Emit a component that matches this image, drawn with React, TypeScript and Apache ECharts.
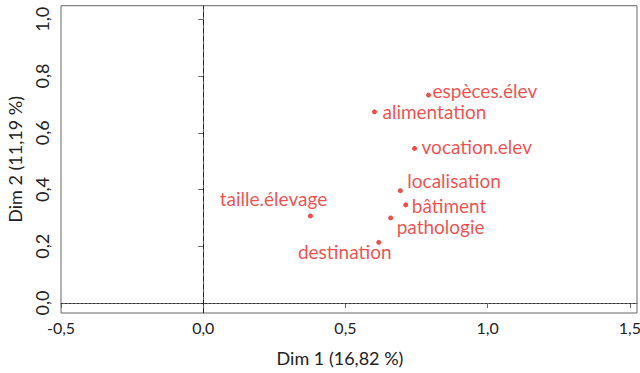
import React, { useEffect, useRef } from "react";
import * as echarts from "echarts";

const names = [
  "espèces.élev",
  "alimentation",
  "vocation.elev",
  "localisation",
  "bâtiment",
  "pathologie",
  "destination",
  "taille.élevage",
];
const dim1 = [0.792, 0.602, 0.743, 0.693, 0.712, 0.659, 0.617, 0.377];
const dim2 = [0.733, 0.674, 0.545, 0.396, 0.346, 0.3, 0.214, 0.307];
const xTicks = [-0.5, 0, 0.5, 1.0, 1.5];
const yTicks = [0, 0.2, 0.4, 0.6, 0.8, 1.0];
const xTitle = "Dim 1 (16,82 %)";
const yTitle = "Dim 2 (11,19 %)";

// label placement per point (layout only)
const labelLayout: Record<string, { align: string; offset: [number, number] }> = {
  "espèces.élev": { align: "left", offset: [4, -5] },
  alimentation: { align: "left", offset: [8, 0] },
  "vocation.elev": { align: "left", offset: [7, -2] },
  localisation: { align: "left", offset: [7, -10] },
  bâtiment: { align: "left", offset: [6, 1] },
  pathologie: { align: "left", offset: [6, 9] },
  destination: { align: "center", offset: [-34, 9] },
  "taille.élevage": { align: "center", offset: [-37, -17] },
};

const fmt = (v: number) => v.toFixed(1).replace(".", ",");
const FONT = "Lato";
const RED = "#ee1f1f";
const AXIS = "#666";

export default function App() {
  const ref = useRef<HTMLDivElement>(null);
  useEffect(() => {
    const chart = echarts.init(ref.current!, null, { renderer: "svg" });
    const data = names.map((n, i) => ({
      name: n,
      value: [dim1[i], dim2[i]],
      label: {
        show: true,
        position: "inside",
        align: labelLayout[n].align,
        verticalAlign: "middle",
        offset: labelLayout[n].offset,
        formatter: n,
      },
    }));
    chart.setOption({
      animation: false,
      textStyle: { fontFamily: FONT },
      grid: {
        left: 61,
        top: 5.7,
        right: 3,
        bottom: 60,
        show: true,
        borderColor: AXIS,
        borderWidth: 1,
        backgroundColor: "#fff",
        outerBoundsMode: "none",
        containLabel: false,
      },
      xAxis: {
        type: "value",
        min: -0.5,
        max: 1.525,
        splitLine: { show: false },
        axisLine: { show: true, lineStyle: { color: AXIS } },
        axisTick: {
          show: true,
          length: 5,
          lineStyle: { color: AXIS },
          customValues: xTicks,
        },
        axisLabel: {
          customValues: xTicks,
          formatter: (v: number) => fmt(v),
          color: "#222",
          fontSize: 16,
          fontFamily: FONT,
          margin: 6,
        },
        name: xTitle,
        nameLocation: "middle",
        nameGap: 36,
        nameTextStyle: { color: "#222", fontSize: 18, fontFamily: FONT, padding: [0, 18, 0, 0] },
      },
      yAxis: {
        type: "value",
        min: -0.035,
        max: 1.048,
        splitLine: { show: false },
        axisLine: { show: true, lineStyle: { color: AXIS } },
        axisTick: {
          show: true,
          length: 5,
          lineStyle: { color: AXIS },
          customValues: yTicks,
        },
        axisLabel: {
          customValues: yTicks,
          formatter: (v: number) => fmt(v),
          rotate: 90,
          color: "#222",
          fontSize: 18,
          fontFamily: FONT,
          margin: 10,
        },
        name: yTitle,
        nameLocation: "middle",
        nameGap: 37,
        nameTextStyle: { color: "#222", fontSize: 18, fontFamily: FONT },
      },
      series: [
        {
          type: "scatter",
          symbol: "circle",
          symbolSize: 5,
          itemStyle: { color: RED },
          label: { color: RED, fontSize: 19, fontFamily: FONT },
          data,
          markLine: {
            silent: true,
            symbol: "none",
            label: { show: false },
            data: [
              { xAxis: 0, lineStyle: { color: "#222", type: [5, 3], width: 1 } },
              { yAxis: 0, lineStyle: { color: "#333", type: [2, 2], width: 1 } },
            ],
          },
        },
      ],
    });
    return () => chart.dispose();
  }, []);
  return <div ref={ref} style={{ width: 640, height: 373, position: "absolute", left: 0, top: 0 }} />;
}
